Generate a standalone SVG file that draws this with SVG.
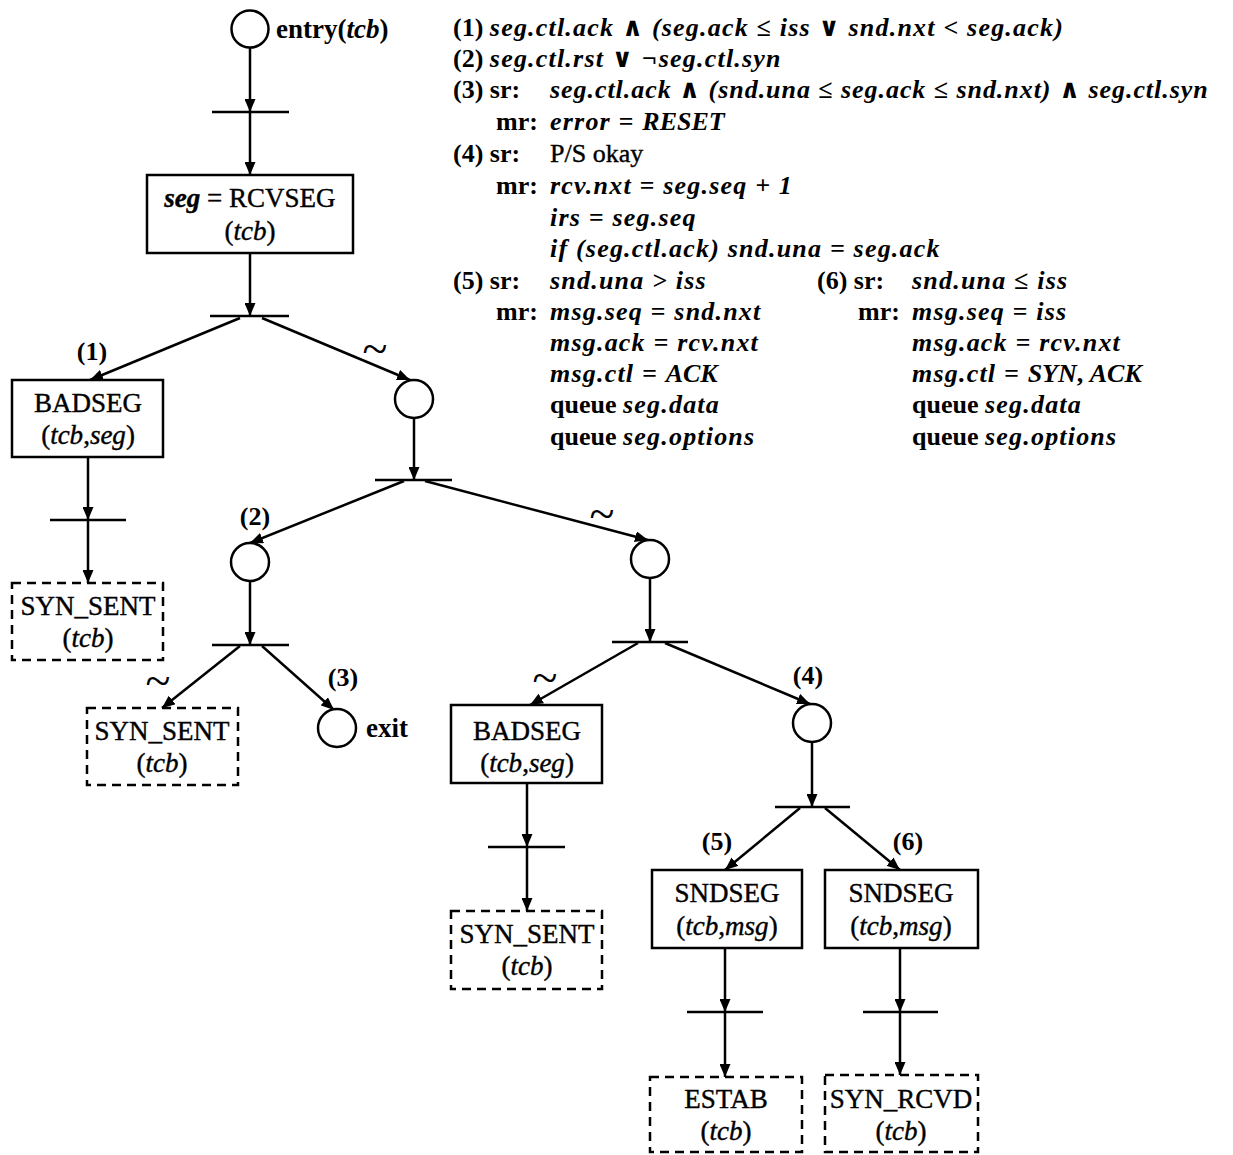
<svg xmlns="http://www.w3.org/2000/svg" width="1233" height="1155" viewBox="0 0 1233 1155">
<style>
  .bg{fill:#ffffff}
  .place{fill:#fff;stroke:#000;stroke-width:2.5}
  .box{fill:#fff;stroke:#000;stroke-width:2.5}
  .dbox{fill:#fff;stroke:#000;stroke-width:2.5;stroke-dasharray:9,6}
  .bar{stroke:#000;stroke-width:2.5}
  .edge{stroke:#000;stroke-width:2.5;fill:none;marker-end:url(#arr)}
  text{font-family:"Liberation Serif","DejaVu Serif",serif;fill:#000}
  .lbl{font-size:27px;text-anchor:middle;stroke:#000;stroke-width:0.4}
  .num{font-size:26px;text-anchor:middle;font-weight:bold}
  .tl{font-size:46px;text-anchor:middle}
  .ann{font-size:26px;font-weight:bold}
  .m{font-style:italic;font-weight:bold;letter-spacing:1.2px}
  .m.tight{letter-spacing:0.95px}
  .r{font-weight:normal;stroke:#000;stroke-width:0.4}
  .i{font-style:italic}
</style>
<defs>
  <marker id="arr" markerUnits="userSpaceOnUse" markerWidth="14" markerHeight="11" refX="13" refY="5.5" orient="auto">
    <path d="M0,0 L13,5.5 L0,11 z" fill="#000"/>
  </marker>
</defs>
<rect class="bg" x="0" y="0" width="1233" height="1155"/>

<g id="connectors">
  <line class="edge" x1="250" y1="48" x2="250" y2="112"/>
  <line class="edge" x1="250" y1="112" x2="250" y2="175"/>
  <line class="edge" x1="250" y1="253" x2="250" y2="316"/>
  <line class="edge" x1="240" y1="318" x2="90" y2="380"/>
  <line class="edge" x1="262" y1="318" x2="410" y2="380"/>
  <line class="edge" x1="88" y1="457" x2="88" y2="520"/>
  <line class="edge" x1="88" y1="520" x2="88" y2="583"/>
  <line class="edge" x1="414" y1="418" x2="414" y2="480"/>
  <line class="edge" x1="404" y1="481" x2="250" y2="543"/>
  <line class="edge" x1="425" y1="481" x2="648" y2="540"/>
  <line class="edge" x1="250" y1="582" x2="250" y2="645"/>
  <line class="edge" x1="240" y1="646" x2="162" y2="708"/>
  <line class="edge" x1="262" y1="646" x2="334" y2="710"/>
  <line class="edge" x1="650" y1="579" x2="650" y2="642"/>
  <line class="edge" x1="638" y1="643" x2="530" y2="705"/>
  <line class="edge" x1="665" y1="643" x2="810" y2="704"/>
  <line class="edge" x1="527" y1="783" x2="527" y2="847"/>
  <line class="edge" x1="527" y1="847" x2="527" y2="911"/>
  <line class="edge" x1="812" y1="743" x2="812" y2="807"/>
  <line class="edge" x1="800" y1="808" x2="725" y2="870"/>
  <line class="edge" x1="825" y1="808" x2="900" y2="870"/>
  <line class="edge" x1="725" y1="948" x2="725" y2="1012"/>
  <line class="edge" x1="725" y1="1012" x2="725" y2="1077"/>
  <line class="edge" x1="900" y1="948" x2="900" y2="1012"/>
  <line class="edge" x1="900" y1="1012" x2="900" y2="1075"/>
</g>

<g id="edge-labels">
  <text class="num" x="92" y="360">(1)</text>
  <text class="tl" x="375" y="364">~</text>
  <text class="num" x="255" y="525">(2)</text>
  <text class="tl" x="602" y="529">~</text>
  <text class="num" x="343" y="686">(3)</text>
  <text class="tl" x="158" y="696">~</text>
  <text class="tl" x="545" y="693">~</text>
  <text class="num" x="808" y="684">(4)</text>
  <text class="num" x="717" y="850">(5)</text>
  <text class="num" x="908" y="850">(6)</text>
</g>

<g id="entry">
  <circle class="place" cx="250" cy="29" r="18.5"/>
  <text x="276" y="38" font-size="27" font-weight="bold">entry(<tspan class="i">tcb</tspan>)</text>
</g>
<g id="t1"><line class="bar" x1="212" y1="112" x2="289" y2="112"/></g>
<g id="rcvseg">
  <rect class="box" x="147" y="175" width="206" height="78"/>
  <text class="lbl" x="250" y="207"><tspan class="i" font-weight="bold">seg</tspan> = RCVSEG</text>
  <text class="lbl" x="250" y="240">(<tspan class="i">tcb</tspan>)</text>
</g>
<g id="t2"><line class="bar" x1="210" y1="316" x2="289" y2="316"/></g>
<g id="badseg1">
  <rect class="box" x="12" y="380" width="151" height="77"/>
  <text class="lbl" x="88" y="412">BADSEG</text>
  <text class="lbl" x="88" y="444">(<tspan class="i">tcb</tspan>,<tspan class="i">seg</tspan>)</text>
</g>
<g id="t3"><line class="bar" x1="50" y1="520" x2="126" y2="520"/></g>
<g id="synsent1">
  <rect class="dbox" x="12" y="583" width="151" height="77"/>
  <text class="lbl" x="88" y="615">SYN_SENT</text>
  <text class="lbl" x="88" y="647">(<tspan class="i">tcb</tspan>)</text>
</g>
<g id="pA"><circle class="place" cx="414" cy="399" r="19"/></g>
<g id="t4"><line class="bar" x1="375" y1="480" x2="452" y2="480"/></g>
<g id="p2"><circle class="place" cx="250" cy="562" r="19"/></g>
<g id="t5"><line class="bar" x1="212" y1="645" x2="289" y2="645"/></g>
<g id="synsent2">
  <rect class="dbox" x="87" y="708" width="151" height="77"/>
  <text class="lbl" x="162" y="740">SYN_SENT</text>
  <text class="lbl" x="162" y="772">(<tspan class="i">tcb</tspan>)</text>
</g>
<g id="exit">
  <circle class="place" cx="337" cy="728" r="19"/>
  <text x="366" y="737" font-size="27" font-weight="bold">exit</text>
</g>
<g id="pB"><circle class="place" cx="650" cy="559" r="19"/></g>
<g id="t6"><line class="bar" x1="612" y1="642" x2="688" y2="642"/></g>
<g id="badseg2">
  <rect class="box" x="451" y="705" width="151" height="78"/>
  <text class="lbl" x="527" y="740">BADSEG</text>
  <text class="lbl" x="527" y="772">(<tspan class="i">tcb</tspan>,<tspan class="i">seg</tspan>)</text>
</g>
<g id="t7"><line class="bar" x1="488" y1="847" x2="565" y2="847"/></g>
<g id="synsent3">
  <rect class="dbox" x="451" y="911" width="151" height="78"/>
  <text class="lbl" x="527" y="943">SYN_SENT</text>
  <text class="lbl" x="527" y="975">(<tspan class="i">tcb</tspan>)</text>
</g>
<g id="p4"><circle class="place" cx="812" cy="723" r="19"/></g>
<g id="t8"><line class="bar" x1="775" y1="807" x2="850" y2="807"/></g>
<g id="sndseg1">
  <rect class="box" x="652" y="870" width="150" height="78"/>
  <text class="lbl" x="727" y="902">SNDSEG</text>
  <text class="lbl" x="727" y="935">(<tspan class="i">tcb</tspan>,<tspan class="i">msg</tspan>)</text>
</g>
<g id="sndseg2">
  <rect class="box" x="825" y="870" width="153" height="78"/>
  <text class="lbl" x="901" y="902">SNDSEG</text>
  <text class="lbl" x="901" y="935">(<tspan class="i">tcb</tspan>,<tspan class="i">msg</tspan>)</text>
</g>
<g id="t9"><line class="bar" x1="687" y1="1012" x2="763" y2="1012"/></g>
<g id="t10"><line class="bar" x1="863" y1="1012" x2="938" y2="1012"/></g>
<g id="estab">
  <rect class="dbox" x="650" y="1077" width="152" height="75"/>
  <text class="lbl" x="726" y="1108">ESTAB</text>
  <text class="lbl" x="726" y="1140">(<tspan class="i">tcb</tspan>)</text>
</g>
<g id="synrcvd">
  <rect class="dbox" x="825" y="1075" width="153" height="77"/>
  <text class="lbl" x="901" y="1108">SYN_RCVD</text>
  <text class="lbl" x="901" y="1140">(<tspan class="i">tcb</tspan>)</text>
</g>

<g id="conditions" class="ann">
  <text x="453" y="36">(1) <tspan class="m">seg.ctl.ack ∧ (seg.ack ≤ iss ∨ snd.nxt &lt; seg.ack)</tspan></text>
  <text x="453" y="67">(2) <tspan class="m">seg.ctl.rst ∨ ¬seg.ctl.syn</tspan></text>
  <text x="453" y="98">(3) sr:<tspan x="550" class="m tight">seg.ctl.ack ∧ (snd.una ≤ seg.ack ≤ snd.nxt) ∧ seg.ctl.syn</tspan></text>
  <text x="496" y="130">mr:<tspan x="550" class="m">error = </tspan><tspan class="i">RESET</tspan></text>
  <text x="453" y="162">(4) sr:<tspan x="550" class="r">P/S okay</tspan></text>
  <text x="496" y="194">mr:<tspan x="550" class="m">rcv.nxt = seg.seq + 1</tspan></text>
  <text x="550" y="226" class="m">irs = seg.seq</text>
  <text x="550" y="257" class="m">if (seg.ctl.ack) snd.una = seg.ack</text>
  <text x="453" y="289">(5) sr:<tspan x="550" class="m">snd.una &gt; iss</tspan></text>
  <text x="496" y="320">mr:<tspan x="550" class="m">msg.seq = snd.nxt</tspan></text>
  <text x="550" y="351" class="m">msg.ack = rcv.nxt</text>
  <text x="550" y="382"><tspan class="m">msg.ctl = </tspan><tspan class="i">ACK</tspan></text>
  <text x="550" y="413">queue <tspan class="m">seg.data</tspan></text>
  <text x="550" y="445">queue <tspan class="m">seg.options</tspan></text>
  <text x="817" y="289">(6) sr:<tspan x="912" class="m">snd.una ≤ iss</tspan></text>
  <text x="858" y="320">mr:<tspan x="912" class="m">msg.seq = iss</tspan></text>
  <text x="912" y="351" class="m">msg.ack = rcv.nxt</text>
  <text x="912" y="382"><tspan class="m">msg.ctl = </tspan><tspan class="i">SYN</tspan>, <tspan class="i">ACK</tspan></text>
  <text x="912" y="413">queue <tspan class="m">seg.data</tspan></text>
  <text x="912" y="445">queue <tspan class="m">seg.options</tspan></text>
</g>
</svg>
